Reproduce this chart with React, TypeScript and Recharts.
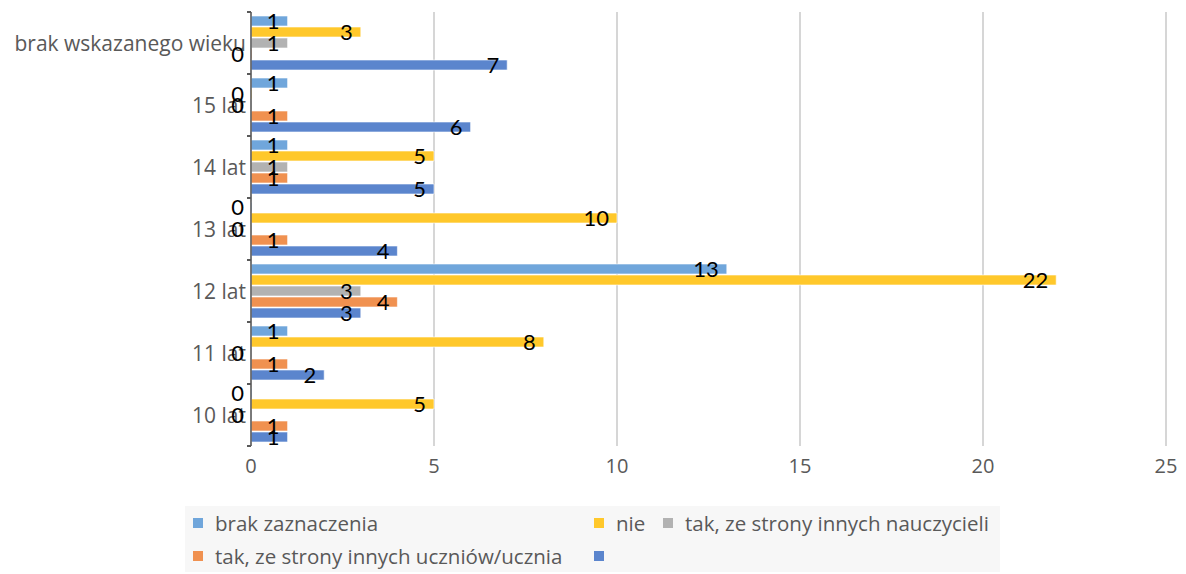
import { BarChart, Bar, XAxis, YAxis, CartesianGrid, LabelList } from "recharts";

const categories = [
  "brak wskazanego wieku",
  "15 lat",
  "14 lat",
  "13 lat",
  "12 lat",
  "11 lat",
  "10 lat",
];
const brakZaznaczenia = [1, 1, 1, 0, 13, 1, 0];
const nie = [3, 0, 5, 10, 22, 8, 5];
const nauczyciele = [1, 0, 1, 0, 3, 0, 0];
const uczniowie = [0, 1, 1, 1, 4, 1, 1];
const bezNazwy = [7, 6, 5, 4, 3, 2, 1];
const xTicks = [0, 5, 10, 15, 20, 25];

const series = [
  { key: "brak", name: "brak zaznaczenia", color: "#70A6DB", values: brakZaznaczenia },
  { key: "nie", name: "nie", color: "#FFC82B", values: nie },
  { key: "naucz", name: "tak, ze strony innych nauczycieli", color: "#B2B2B2", values: nauczyciele },
  { key: "uczn", name: "tak, ze strony innych uczniów/ucznia", color: "#F09150", values: uczniowie },
  { key: "bez", name: "", color: "#5B85CD", values: bezNazwy },
];

const data = categories.map((name, i) => {
  const row: Record<string, string | number> = { name };
  series.forEach((s) => (row[s.key] = s.values[i]));
  return row;
});

const W = 1186;
const H = 574;
const AXIS_W = 251;
const TOP = 12;
const BOTTOM = 446;
const FONT = "'Open Sans', Lato, sans-serif";
const LABEL_FONT = "Lato, sans-serif";

const YTick = ({ x, y, payload }: any) => {
  const band = (BOTTOM - TOP) / categories.length;
  return (
    <g>
      <text x={x} y={y} textAnchor="end" dominantBaseline="central" fill="#595959" fontSize={21} fontFamily={FONT}>
        {payload.value}
      </text>
      <line x1={AXIS_W - 4} x2={AXIS_W} y1={y - band / 2} y2={y - band / 2} stroke="#595959" strokeWidth={2} />
      <line x1={AXIS_W - 4} x2={AXIS_W} y1={y + band / 2} y2={y + band / 2} stroke="#595959" strokeWidth={2} />
    </g>
  );
};

const BarLabel = ({ x, y, width, height, value }: any) => (
  <text
    x={x + width - 8}
    y={y + height / 2 - 1}
    textAnchor="end"
    dominantBaseline="central"
    fill="#000"
    fontSize={22}
    fontFamily={LABEL_FONT}
  >
    {value}
  </text>
);

const legendWidths = [401, 69, 330, 401, 40];

export default function App() {
  return (
    <div style={{ position: "absolute", left: 0, top: 0, width: W, height: H, background: "#fff" }}>
      <BarChart
        width={W}
        height={H}
        data={data}
        layout="vertical"
        margin={{ top: TOP, right: 20, left: 0, bottom: H - BOTTOM - 30 }}
        barSize={10}
        barGap={1}
      >
        <CartesianGrid horizontal={false} stroke="#C8C8C8" strokeWidth={1.5} />
        <XAxis
          type="number"
          domain={[0, 25]}
          ticks={xTicks}
          axisLine={false}
          tickLine={false}
          height={30}
          tick={{ fill: "#595959", fontSize: 20, fontFamily: FONT }}
          tickMargin={7}
        />
        <YAxis
          type="category"
          dataKey="name"
          width={AXIS_W}
          axisLine={{ stroke: "#595959", strokeWidth: 1.5 }}
          tickLine={false}
          tickSize={0}
          tickMargin={5}
          tick={<YTick />}
          interval={0}
        />
        {series.map((s) => (
          <Bar
            key={s.key}
            dataKey={s.key}
            name={s.name}
            fill={s.color}
            stroke="#fff"
            strokeWidth={0.6}
            minPointSize={1}
            isAnimationActive={false}
          >
            <LabelList dataKey={s.key} content={<BarLabel />} />
          </Bar>
        ))}
      </BarChart>
      <div
        style={{
          position: "absolute",
          left: 185,
          top: 506,
          width: 815,
          height: 66,
          background: "#F7F7F7",
          display: "flex",
          flexWrap: "wrap",
          alignContent: "center",
          paddingLeft: 8,
          boxSizing: "border-box",
          fontFamily: FONT,
          fontSize: 20.5,
          color: "#595959",
        }}
      >
        {series.map((s, i) => (
          <div key={s.key} style={{ width: legendWidths[i], height: 33, display: "flex", alignItems: "center", whiteSpace: "nowrap" }}>
            <span style={{ width: 10, height: 10, background: s.color, marginRight: 12, flexShrink: 0, display: "inline-block" }} />
            <span>{s.name}</span>
          </div>
        ))}
      </div>
    </div>
  );
}
